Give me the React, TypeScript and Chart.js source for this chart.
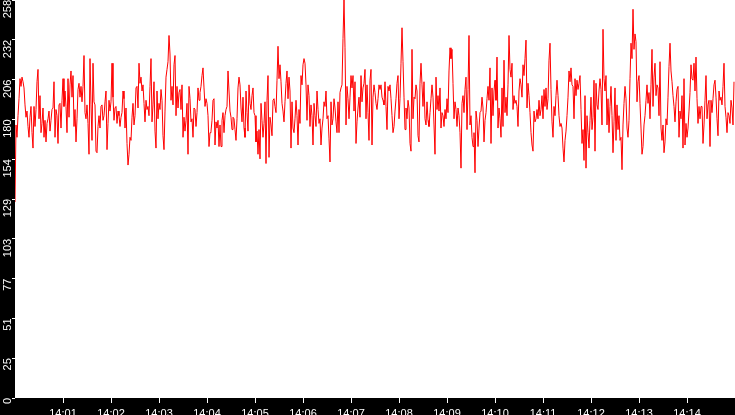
import { useEffect, useRef } from 'react';
import { Chart, registerables } from 'chart.js';

Chart.register(...registerables);

// one sample every 1.25 s over a 15 minute window starting 14:00:00
const SAMPLE_SECONDS = 1.25;
const WINDOW_SECONDS = 900;
const Y_MAX = 258;

const xTickSeconds = [60, 120, 180, 240, 300, 360, 420, 480, 540, 600, 660, 720, 780, 840];
const xTickLabels = ['14:01', '14:02', '14:03', '14:04', '14:05', '14:06', '14:07', '14:08', '14:09', '14:10', '14:11', '14:12', '14:13', '14:14'];
const yTickValues = [0, 25.8, 51.6, 77.4, 103.2, 129, 154.8, 180.6, 206.4, 232.2, 258];
const yTickLabels = ['0', '25', '51', '77', '103', '129', '154', '180', '206', '232', '258'];

const samples = [
  // 14:00:00 - 14:01:40
  127, 177, 169, 183, 194, 207, 202, 208, 205, 201, 190, 182, 186, 176, 169, 182, 189, 172, 162, 189,
  176, 187, 205, 213, 181, 196, 172, 178, 188, 169, 180, 166, 178, 181, 186, 173, 180, 187, 188, 205,
  169, 187, 183, 165, 190, 191, 175, 193, 207, 189, 199, 189, 172, 207, 182, 203, 212, 195, 209, 176,
  187, 166, 181, 200, 204, 195, 202, 192, 202, 222, 185, 181, 190, 178, 158, 220, 190, 167, 217, 192,
  // 14:01:40 - 14:03:20
  190, 160, 159, 176, 183, 175, 189, 190, 180, 183, 192, 199, 161, 178, 193, 186, 192, 217, 195, 180,
  188, 189, 178, 186, 183, 176, 182, 185, 199, 194, 175, 188, 165, 151, 158, 169, 167, 182, 191, 177,
  183, 201, 202, 188, 217, 204, 208, 199, 203, 191, 179, 193, 187, 189, 183, 202, 220, 179, 190, 205,
  173, 162, 199, 181, 191, 187, 200, 193, 170, 161, 186, 208, 213, 218, 235, 223, 193, 202, 190, 216,
  // 14:03:20 - 14:05:00
  222, 183, 202, 188, 198, 200, 187, 203, 169, 182, 173, 180, 191, 158, 202, 194, 179, 181, 169, 188,
  187, 176, 185, 201, 193, 198, 202, 209, 214, 201, 189, 194, 191, 183, 163, 172, 173, 180, 193, 194,
  164, 179, 175, 180, 163, 177, 163, 180, 185, 172, 183, 187, 189, 212, 199, 186, 182, 174, 182, 181,
  174, 167, 181, 201, 208, 203, 188, 179, 195, 175, 169, 199, 185, 173, 203, 191, 187, 196, 201, 185,
  // 14:05:00 - 14:06:40
  183, 166, 173, 158, 174, 155, 191, 180, 169, 178, 192, 152, 193, 209, 156, 182, 177, 170, 193, 194,
  189, 185, 206, 228, 207, 216, 205, 191, 186, 179, 192, 204, 212, 194, 208, 199, 162, 192, 175, 172,
  181, 193, 183, 164, 187, 178, 209, 203, 216, 220, 217, 203, 180, 203, 196, 176, 190, 183, 164, 191,
  183, 176, 199, 187, 178, 181, 164, 175, 181, 192, 189, 199, 181, 183, 168, 153, 192, 177, 181, 194,
  // 14:06:40 - 14:08:20
  188, 179, 172, 192, 172, 198, 201, 203, 233, 258, 227, 177, 202, 194, 181, 195, 209, 201, 209, 186,
  205, 165, 179, 188, 195, 182, 209, 192, 201, 204, 213, 181, 203, 185, 167, 206, 213, 164, 195, 203,
  198, 191, 187, 194, 203, 200, 203, 195, 193, 190, 205, 189, 174, 202, 199, 203, 194, 183, 172, 176,
  186, 194, 204, 209, 181, 194, 217, 240, 218, 195, 174, 188, 181, 193, 188, 165, 160, 226, 181, 195,
  // 14:08:20 - 14:10:00
  194, 203, 199, 170, 166, 204, 217, 203, 189, 205, 181, 177, 192, 180, 176, 185, 194, 203, 195, 177,
  158, 208, 187, 196, 186, 201, 175, 185, 183, 176, 187, 181, 194, 185, 212, 227, 220, 226, 204, 181,
  192, 187, 176, 188, 183, 172, 149, 191, 196, 185, 200, 208, 174, 200, 235, 177, 183, 169, 163, 172,
  146, 186, 180, 163, 175, 185, 186, 195, 188, 166, 180, 185, 194, 202, 193, 214, 165, 201, 183, 199,
  // 14:10:00 - 14:11:40
  206, 193, 221, 175, 188, 181, 169, 201, 176, 219, 185, 195, 183, 203, 235, 213, 208, 217, 187, 196,
  191, 193, 189, 176, 199, 207, 203, 195, 216, 209, 220, 232, 188, 204, 196, 185, 172, 164, 160, 186,
  179, 181, 187, 181, 193, 183, 187, 196, 181, 200, 189, 201, 187, 194, 219, 230, 200, 179, 169, 189,
  183, 196, 206, 196, 183, 176, 178, 175, 162, 153, 167, 173, 183, 195, 212, 205, 214, 203, 202, 181,
  // 14:11:40 - 14:13:20
  207, 196, 206, 200, 204, 209, 187, 165, 174, 154, 196, 149, 183, 172, 162, 180, 195, 174, 182, 206,
  160, 204, 190, 187, 199, 207, 200, 177, 239, 207, 199, 209, 177, 194, 172, 189, 202, 183, 159, 179,
  201, 167, 190, 174, 183, 167, 169, 148, 177, 191, 202, 194, 175, 169, 180, 207, 230, 220, 252, 226,
  236, 231, 192, 205, 209, 191, 175, 158, 163, 177, 183, 193, 203, 191, 198, 181, 203, 226, 189, 208,
  // 14:13:20 - 14:15:00
  217, 196, 203, 201, 183, 218, 175, 167, 177, 159, 166, 181, 177, 195, 215, 230, 212, 205, 196, 189,
  179, 192, 200, 202, 169, 186, 181, 196, 162, 207, 164, 178, 169, 175, 186, 198, 216, 207, 206, 217,
  199, 221, 194, 178, 189, 181, 189, 189, 165, 177, 193, 209, 181, 190, 193, 163, 193, 185, 194, 203,
  206, 195, 181, 170, 199, 193, 195, 190, 202, 217, 189, 182, 172, 185, 183, 178, 193, 188, 177, 205,
];

const FONT = { family: '"Liberation Sans", Arial, sans-serif', size: 11 };

const panelBackground = {
  id: 'panelBackground',
  beforeDraw(chart: Chart) {
    const { ctx, width, height, chartArea } = chart;
    ctx.save();
    ctx.fillStyle = '#000';
    ctx.fillRect(0, 0, width, height);
    ctx.fillStyle = '#fff';
    ctx.fillRect(chartArea.left, chartArea.top, chartArea.right - chartArea.left, chartArea.bottom - chartArea.top);
    ctx.restore();
  },
};

export default function App() {
  const ref = useRef<HTMLCanvasElement>(null);
  const chartRef = useRef<Chart | null>(null);

  useEffect(() => {
    if (!ref.current) return;
    const points = samples.map((v, i) => ({ x: i * SAMPLE_SECONDS, y: v }));

    chartRef.current?.destroy();
    chartRef.current = new Chart(ref.current, {
      type: 'line',
      data: {
        datasets: [{
          data: points,
          borderColor: '#ff0000',
          borderWidth: 1,
          pointRadius: 0,
          tension: 0,
          fill: false,
        }],
      },
      options: {
        animation: false,
        responsive: true,
        maintainAspectRatio: false,
        layout: { padding: 0 },
        plugins: { legend: { display: false }, tooltip: { enabled: false } },
        events: [],
        scales: {
          x: {
            type: 'linear',
            min: 0,
            max: WINDOW_SECONDS,
            afterBuildTicks: (s: any) => { s.ticks = xTickSeconds.map((value) => ({ value })); },
            afterFit: (s: any) => { s.height = 17; s.paddingLeft = 0; s.paddingRight = 0; },
            border: { display: false },
            grid: { drawOnChartArea: false, color: '#fff', tickLength: 5 },
            ticks: {
              color: '#fff', font: FONT, padding: 4, autoSkip: false, maxRotation: 0,
              callback: (_v: any, i: number) => xTickLabels[i],
            },
          },
          y: {
            type: 'linear',
            min: 0,
            max: Y_MAX,
            afterBuildTicks: (s: any) => { s.ticks = yTickValues.map((value) => ({ value })); },
            afterFit: (s: any) => { s.width = 15; s.paddingTop = 0; s.paddingBottom = 0; },
            border: { display: false },
            grid: { drawOnChartArea: false, color: '#fff', tickLength: 3 },
            ticks: {
              color: '#fff', font: FONT, padding: 4, minRotation: 90, maxRotation: 90, autoSkip: false,
              callback: (_v: any, i: number) => yTickLabels[i],
            },
          },
        },
      },
      plugins: [panelBackground],
    });
    return () => { chartRef.current?.destroy(); };
  }, []);

  return (
    <div style={{ position: 'fixed', left: 0, top: 0, width: 735, height: 415 }}>
      <canvas ref={ref} />
    </div>
  );
}
